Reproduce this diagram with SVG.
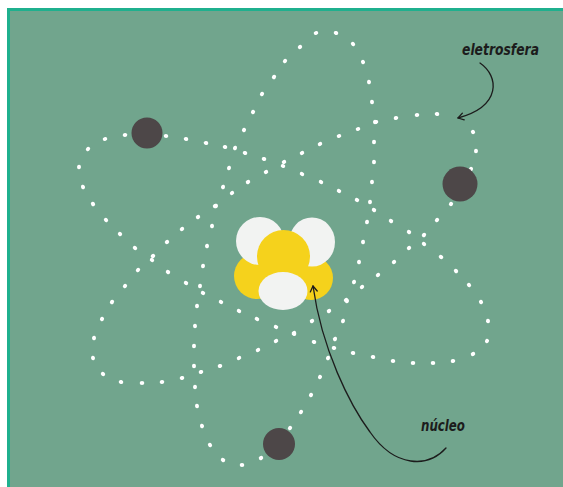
<svg xmlns="http://www.w3.org/2000/svg" width="563" height="487" viewBox="0 0 563 487">
  <style>
    .orbit { fill: none; stroke: none; marker-start: url(#dot); marker-mid: url(#dot); }
    .electron { fill: #4d4748; }
    .white { fill: #f2f3f2; }
    .yellow { fill: #f5d21c; }
    .label { font-family: "DejaVu Sans Condensed", "DejaVu Sans", sans-serif; font-style: italic; font-weight: bold; font-size: 15px; fill: #1c1c1c; }
    .pointer { fill: none; stroke: #1c1c1c; stroke-width: 1.3; stroke-linecap: round; marker-end: url(#tip); }
  </style>
  <defs>
    <marker id="dot" markerUnits="userSpaceOnUse" markerWidth="8" markerHeight="8" refX="4" refY="4" orient="auto" overflow="visible">
      <ellipse cx="4" cy="4" rx="2.3" ry="2" fill="#ffffff"/>
    </marker>
    <marker id="tip" markerUnits="userSpaceOnUse" markerWidth="12" markerHeight="12" refX="0" refY="0" orient="auto" overflow="visible">
      <path d="M-5.5,-3.5 L0,0 L-5.5,3.5" fill="none" stroke="#1c1c1c" stroke-width="1.3" stroke-linecap="round" stroke-linejoin="round"/>
    </marker>
  </defs>

  <!-- frame -->
  <rect x="0" y="0" width="563" height="487" fill="#ffffff"/>
  <rect x="7" y="8" width="556" height="479" fill="#1fb08e"/>
  <rect x="10" y="11" width="553" height="476" fill="#71a58d"/>

  <!-- electron orbits (dotted loops) -->
  <g id="orbits">
    <polygon id="orbit-a" class="orbit" points="316,33 336,33 353,44 363,62 369,82 372,102 375,122 374,142 374,162 372,182 370,202 367,222 363,242 359,262 354,282 347,301 343,321 335,339 328,358 320,377 311,395 301,412 290,428 261,458 242,465 223,460 210,445 202,426 197,406 195,387 194,366 194,346 195,326 197,306 200,286 203,266 207,246 212,226 216,206 223,187 229,168 235,148 244,130 253,112 262,94 274,77 285,61 300,47"/>
    <polygon id="orbit-b" class="orbit" points="79,167 88,149 105,139 125,135 166,136 186,139 206,143 225,147 245,153 264,159 283,166 302,174 321,182 339,191 357,200 374,210 391,221 409,232 424,244 441,257 456,271 469,285 481,302 488,321 487,341 473,354 453,361 433,363 413,363 393,361 373,357 353,353 334,348 314,342 294,334 276,327 257,319 239,311 221,302 203,293 186,283 168,272 152,260 135,248 120,234 106,220 93,204 83,187"/>
    <polygon id="orbit-c" class="orbit" points="94,338 102,319 112,302 125,286 138,270 153,256 167,242 182,229 198,217 215,206 232,193 248,182 266,172 284,162 302,153 320,144 339,136 358,129 376,122 396,118 417,115 437,114 473,132 476,151 471,169 451,204 437,220 424,235 409,248 394,262 378,275 362,287 346,300 329,311 312,321 294,333 276,341 258,350 239,358 220,366 201,372 182,378 162,382 142,383 121,382 103,374 93,358"/>
  </g>

  <!-- nucleus: protons (yellow) and neutrons (white) -->
  <g id="nucleus">
    <circle class="yellow" cx="257" cy="276" r="23"/>
    <circle class="yellow" cx="311" cy="278" r="22"/>
    <circle class="white" cx="260" cy="241" r="24"/>
    <ellipse class="white" cx="312" cy="242" rx="23" ry="24.5"/>
    <circle class="yellow" cx="283.5" cy="256.5" r="26.5"/>
    <ellipse class="white" cx="283" cy="291" rx="24.5" ry="19"/>
  </g>

  <!-- electrons -->
  <g id="electron-1"><circle class="electron" cx="147" cy="133" r="15.5"/></g>
  <g id="electron-2"><circle class="electron" cx="460" cy="184" r="17.5"/></g>
  <g id="electron-3"><circle class="electron" cx="279" cy="444" r="16"/></g>

  <!-- labels -->
  <g id="label-eletrosfera">
    <text class="label" x="462" y="55" textLength="77" lengthAdjust="spacingAndGlyphs">eletrosfera</text>
  </g>
  <g id="label-nucleo">
    <text class="label" x="421" y="431" textLength="44" lengthAdjust="spacingAndGlyphs">núcleo</text>
  </g>

  <!-- pointer arrows -->
  <g id="connectors">
    <path class="pointer" d="M480,63 C499,76 502,106 458,118"/>
    <path class="pointer" d="M446,448 C428,468 395,468 370,432 C350,405 322,350 313,286"/>
  </g>
</svg>
